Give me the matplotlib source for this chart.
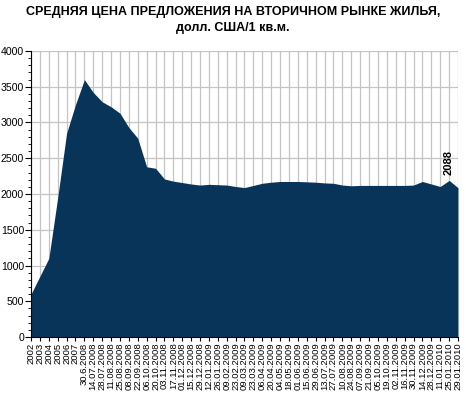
import matplotlib
matplotlib.use("Agg")
import matplotlib.pyplot as plt
from matplotlib.ticker import MultipleLocator

years = ["2002", "2003", "2004", "2005", "2006", "2007"]
dates = ["30.6.2008", "14.07.2008", "28.07.2008", "11.08.2008", "25.08.2008",
         "08.09.2008", "22.09.2008", "06.10.2008", "20.10.2008", "03.11.2008",
         "17.11.2008", "01.12.2008", "15.12.2008", "29.12.2008", "12.01.2009",
         "26.01.2009", "09.02.2009", "23.02.2009", "09.03.2009", "23.03.2009",
         "06.04.2009", "20.04.2009", "04.05.2009", "18.05.2009", "01.06.2009",
         "15.06.2009", "29.06.2009", "13.07.2009", "27.07.2009", "10.08.2009",
         "24.08.2009", "07.09.2009", "21.09.2009", "05.10.2009", "19.10.2009",
         "02.11.2009", "16.11.2009", "30.11.2009", "14.12.2009", "28.12.2009",
         "11.01.2010", "25.01.2010", "29.01.2010"]
labels = years + dates

prices = [600, 850, 1100, 1950, 2850, 3250, 3600, 3420, 3290, 3220,
          3130, 2930, 2780, 2380, 2360, 2210, 2180, 2160, 2140, 2125,
          2135, 2130, 2125, 2105, 2090, 2120, 2150, 2165, 2175, 2175,
          2175, 2170, 2165, 2155, 2150, 2125, 2115, 2120, 2120, 2120,
          2120, 2120, 2120, 2125, 2175, 2140, 2105, 2190, 2088]

title = "СРЕДНЯЯ ЦЕНА ПРЕДЛОЖЕНИЯ НА ВТОРИЧНОМ РЫНКЕ ЖИЛЬЯ,\nдолл. США/1 кв.м."
value_label = "2088"

plt.rcParams['font.family'] = ['Liberation Sans', 'DejaVu Sans']

fig = plt.figure(figsize=(4.66, 4.15), dpi=100)
ax = fig.add_axes([31/466, (415-337)/415, (458-31)/466, (337-51)/415])

x = list(range(len(prices)))
ax.fill_between(x, prices, 0, color="#08345a", linewidth=0, zorder=2)

ax.set_xlim(0, len(prices) - 1)
ax.set_ylim(0, 4000)
ax.yaxis.set_major_locator(MultipleLocator(500))
ax.yaxis.set_minor_locator(MultipleLocator(100))
ax.set_xticks(x)
ax.set_xticklabels(labels, rotation=90, fontsize=6.8)
ax.tick_params(axis='x', length=3, pad=1)
ax.tick_params(axis='y', which='major', length=4, labelsize=7.6, pad=1)
ax.tick_params(axis='y', which='minor', length=2)

ax.grid(True, axis='both', color="#c4c4c4", linewidth=0.9, zorder=0)
ax.set_axisbelow(True)
for side in ['top', 'right']:
    ax.spines[side].set_visible(False)

ax.annotate(value_label, xy=(len(prices) - 2, prices[-2]), xytext=(0, 4),
            textcoords='offset points', rotation=90, ha='center', va='bottom',
            fontsize=8, fontweight='bold')

fig.text(0.5, 0.985, title, ha='center', va='top', fontsize=9,
         fontweight='bold', linespacing=1.45)

fig.savefig("out.png", dpi=100)
